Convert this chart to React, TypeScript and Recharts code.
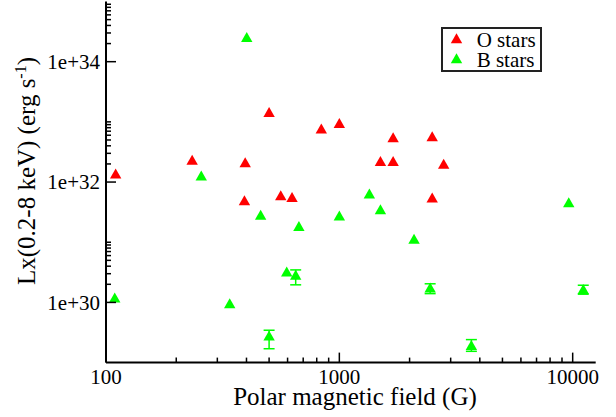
import { ScatterChart, Scatter, XAxis, YAxis, ErrorBar, Legend } from "recharts";

const FONT = '"Liberation Serif", "Times New Roman", serif';

const seriesNames = ["O stars", "B stars"];

// O stars: polar field (G) and Lx (erg/s)
const oStarsField = [110, 234, 395, 500, 837, 1000, 1700, 2500, 1500, 1700, 2800, 392, 561, 627, 2500];
const oStarsLx = [1.37e32, 2.34e32, 2.11e32, 1.45e33, 7.7e32, 9.5e32, 5.5e32, 5.7e32, 2.23e32, 2.23e32, 2.0e32, 4.95e31, 6.0e31, 5.6e31, 5.5e31];

// B stars
const bStarsField = [401, 256, 460, 671, 1000, 1345, 1500, 2090, 2450, 9620, 11100, 3680, 109, 339, 595, 650, 500];
const bStarsLx = [2.54e34, 1.27e32, 2.84e31, 1.84e31, 2.76e31, 6.4e31, 3.5e31, 1.13e31, 1.75e30, 4.6e31, 1.66e30, 1.95e29, 1.2e30, 9.6e29, 3.25e30, 2.87e30, 2.79e29];
// [minus, plus] errors, null when no visible bar
const bStarsErr: (number[] | null)[] = [
  null, null, null, null, null, null, null, null,
  [0.35e30, 0.29e30], null, [0.29e30, 0.27e30], [0.41e29, 0.46e29],
  null, null, null, [0.91e30, 0.6e30], [1.09e29, 0.66e29],
];

const xMajorTicks = [100, 1000, 10000];
const xMajorLabels = ["100", "1000", "10000"];
const xMinorTicks = [200, 300, 400, 500, 600, 700, 800, 900, 2000, 3000, 4000, 5000, 6000, 7000, 8000, 9000];

const yMajorTicks = [1e30, 1e32, 1e34];
const yMajorLabels = ["1e+30", "1e+32", "1e+34"];
const yMinorTicks = [
  2e30, 3e30, 4e30, 5e30, 6e30, 7e30, 8e30, 9e30, 1e31,
  2e32, 3e32, 4e32, 5e32, 6e32, 7e32, 8e32, 9e32, 1e33,
  2e34, 3e34, 4e34, 5e34, 6e34, 7e34, 8e34, 9e34,
];

const xTicks = [...xMajorTicks, ...xMinorTicks].sort((a, b) => a - b);
const yTicks = [...yMajorTicks, ...yMinorTicks].sort((a, b) => a - b);

const oRows = oStarsField.map((x, i) => ({ x, y: oStarsLx[i] }));
const bRows = bStarsField.map((x, i) => ({ x, y: bStarsLx[i], err: bStarsErr[i] ?? undefined }));

const same = (a: number, b: number) => Math.abs(Math.log10(a) - Math.log10(b)) < 1e-6;
const majorIndex = (v: number, majors: number[]) => majors.findIndex((m) => same(m, v));

const Triangle = (props: any) => {
  const { cx, cy, fill } = props;
  if (cx == null || cy == null) return null;
  return <polygon points={`${cx},${cy - 5.2} ${cx - 5.7},${cy + 4.8} ${cx + 5.7},${cy + 4.8}`} fill={fill} />;
};

const XTickBottom = (props: any) => {
  const { x, y, payload } = props;
  const idx = majorIndex(payload.value, xMajorTicks);
  const len = idx >= 0 ? 10 : 5;
  return (
    <g>
      <line x1={x} y1={y} x2={x} y2={y - len} stroke="#000" strokeWidth={1.5} />
      {idx >= 0 && (
        <text x={x} y={y + 21} textAnchor="middle" fontFamily={FONT} fontSize={21} fill="#000">
          {xMajorLabels[idx]}
        </text>
      )}
    </g>
  );
};

const XTickTop = (props: any) => {
  const { x, y, payload } = props;
  const len = majorIndex(payload.value, xMajorTicks) >= 0 ? 10 : 5;
  return <line x1={x} y1={y} x2={x} y2={y + len} stroke="#000" strokeWidth={1.5} />;
};

const YTickLeft = (props: any) => {
  const { x, y, payload } = props;
  const idx = majorIndex(payload.value, yMajorTicks);
  const len = idx >= 0 ? 10 : 5;
  return (
    <g>
      <line x1={x} y1={y} x2={x + len} y2={y} stroke="#000" strokeWidth={1.5} />
      {idx >= 0 && (
        <text x={x - 6} y={y + 7.3} textAnchor="end" fontFamily={FONT} fontSize={21} fill="#000">
          {yMajorLabels[idx]}
        </text>
      )}
    </g>
  );
};

const YTickRight = (props: any) => {
  const { x, y, payload } = props;
  const len = majorIndex(payload.value, yMajorTicks) >= 0 ? 10 : 5;
  return <line x1={x} y1={y} x2={x - len} y2={y} stroke="#000" strokeWidth={1.5} />;
};

const YTitle = () => (
  <text x={35} y={171} transform="rotate(-90, 35, 171)" textAnchor="middle" fontFamily={FONT} fontSize={25} fill="#000">
    Lx(0.2-8 keV) (erg s
    <tspan dy={-9} fontSize={16}>-1</tspan>
    <tspan dy={9}>)</tspan>
  </text>
);

const XTitle = () => (
  <text x={355} y={405} textAnchor="middle" fontFamily={FONT} fontSize={25} fill="#000">
    Polar magnetic field (G)
  </text>
);

const LegendBox = (props: any) => {
  const items = (props.payload || [])
    .filter((p: any) => p.type !== "none")
    .slice()
    .sort((a: any, b: any) => seriesNames.indexOf(a.value) - seriesNames.indexOf(b.value));
  return (
    <div style={{ width: 101, height: 45, border: "2px solid #222", boxSizing: "border-box", background: "#fff" }}>
      <svg width={97} height={41} style={{ display: "block", overflow: "visible" }}>
        {items.map((p: any, i: number) => (
          <g key={p.value}>
            <Triangle cx={13.5} cy={9.4 + i * 20} fill={p.color} />
            <text x={33.7} y={17.7 + i * 20} fontFamily={FONT} fontSize={21} fill="#000">
              {p.value}
            </text>
          </g>
        ))}
      </svg>
    </div>
  );
};

export default function App() {
  return (
    <div style={{ position: "absolute", left: 0, top: 0, background: "#fff" }}>
      <ScatterChart width={616} height={417} margin={{ top: 1.5, right: 20.3, bottom: 0, left: 0 }}>
        <XAxis
          dataKey="x"
          type="number"
          scale="log"
          domain={[100, 12550]}
          ticks={xTicks}
          interval={0}
          height={54.4}
          tickSize={0}
          tickMargin={0}
          tick={<XTickBottom />}
          axisLine={{ stroke: "#000", strokeWidth: 2 }}
          label={<XTitle />}
          allowDataOverflow
        />
        <XAxis
          xAxisId="top"
          orientation="top"
          type="number"
          scale="log"
          domain={[100, 12550]}
          ticks={xTicks}
          interval={0}
          height={0}
          tickSize={0}
          tickMargin={0}
          tick={<XTickTop />}
          axisLine={{ stroke: "#000", strokeWidth: 2 }}
          allowDataOverflow
        />
        <YAxis
          dataKey="y"
          type="number"
          scale="log"
          domain={[1e29, 1e35]}
          ticks={yTicks}
          interval={0}
          width={106}
          tickSize={0}
          tickMargin={0}
          tick={<YTickLeft />}
          axisLine={{ stroke: "#000", strokeWidth: 2 }}
          label={<YTitle />}
          allowDataOverflow
        />
        <YAxis
          yAxisId="right"
          orientation="right"
          type="number"
          scale="log"
          domain={[1e29, 1e35]}
          ticks={yTicks}
          interval={0}
          width={0}
          tickSize={0}
          tickMargin={0}
          tick={<YTickRight />}
          axisLine={{ stroke: "#000", strokeWidth: 2 }}
          allowDataOverflow
        />
        <Legend
          layout="horizontal"
          verticalAlign="middle"
          align="center"
          content={<LegendBox />}
          wrapperStyle={{ position: "absolute", left: 441, top: 27.3, width: 101, height: 45 }}
        />
        <Scatter name={seriesNames[0]} data={oRows} fill="#ff0000" shape={<Triangle />} isAnimationActive={false} />
        <Scatter name={seriesNames[1]} data={bRows} fill="#00ff00" shape={<Triangle />} isAnimationActive={false}>
          <ErrorBar dataKey="err" direction="y" width={5.5} stroke="#00ff00" strokeWidth={1.5} />
        </Scatter>
      </ScatterChart>
    </div>
  );
}
